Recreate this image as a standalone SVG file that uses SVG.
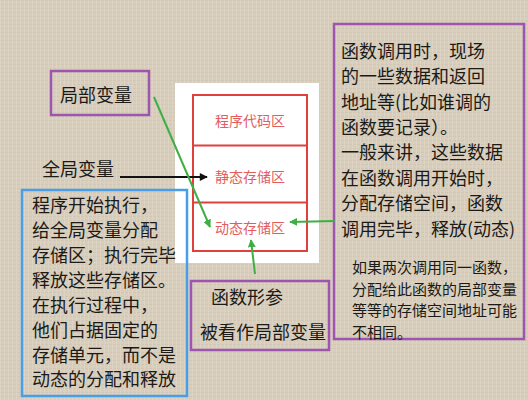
<svg xmlns="http://www.w3.org/2000/svg" width="528" height="400" viewBox="0 0 528 400">
<style>
text{font-family:"Noto Sans CJK SC","Noto Sans",sans-serif;fill:#1c1a17}
.t18{font-size:18px}
.t15{font-size:15px}
.mem{font-size:14px;fill:#e35d5d;text-anchor:middle}
.pbox{fill:none;stroke:#9e55b0;stroke-width:2.5}
.bbox{fill:none;stroke:#4a9ee6;stroke-width:2.5}
.cell{fill:none;stroke:#e0403c;stroke-width:2}
.g{stroke:#3fae45;stroke-width:2;fill:none}
.k{stroke:#111;stroke-width:2;fill:none}
</style>
<defs>
<pattern id="tex" width="4" height="4" patternUnits="userSpaceOnUse">
<rect width="4" height="4" fill="#d8cebd"/>
<rect width="4" height="1" fill="#d2c7b5"/>
<rect width="1" height="4" fill="#dcd3c3"/>
</pattern>
<marker id="ag" viewBox="0 0 10 10" refX="9" refY="5" markerWidth="4" markerHeight="4" orient="auto" markerUnits="strokeWidth">
<path d="M0,0 L10,5 L0,10 z" fill="#3fae45"/>
</marker>
<marker id="ak" viewBox="0 0 10 10" refX="9" refY="5" markerWidth="4.5" markerHeight="4" orient="auto" markerUnits="strokeWidth">
<path d="M0,0 L10,5 L0,10 z" fill="#111"/>
</marker>
</defs>
<rect width="528" height="400" fill="url(#tex)"/>

<g id="memory">
<rect x="175" y="83" width="144" height="180" fill="#ffffff"/>
<rect class="cell" x="193" y="95" width="114" height="156"/>
<line class="cell" x1="193" y1="145.5" x2="307" y2="145.5"/>
<line class="cell" x1="193" y1="202.5" x2="307" y2="202.5"/>
<text class="mem" x="250" y="126">程序代码区</text>
<text class="mem" x="250" y="181.5">静态存储区</text>
<text class="mem" x="250" y="232.5">动态存储区</text>
</g>

<g id="local-var">
<rect class="pbox" x="51" y="71" width="98" height="44"/>
<text class="t18" x="60" y="102">局部变量</text>
</g>

<g id="global-var">
<text class="t18" x="42" y="176">全局变量</text>
</g>

<g id="global-note">
<rect class="bbox" x="22" y="190" width="165" height="206"/>
<text class="t18" x="32" y="212">程序开始执行，</text>
<text class="t18" x="32" y="237">给全局变量分配</text>
<text class="t18" x="32" y="262">存储区；执行完毕</text>
<text class="t18" x="32" y="287">释放这些存储区。</text>
<text class="t18" x="32" y="311.5">在执行过程中，</text>
<text class="t18" x="32" y="336.5">他们占据固定的</text>
<text class="t18" x="32" y="361.5">存储单元，而不是</text>
<text class="t18" x="32" y="386">动态的分配和释放</text>
</g>

<g id="param">
<rect class="pbox" x="191" y="281" width="138" height="69"/>
<text class="t18" x="211" y="304">函数形参</text>
<text class="t18" x="200" y="339">被看作局部变量</text>
</g>

<g id="call-note">
<rect class="pbox" x="334" y="24" width="190" height="315"/>
<text class="t18" x="341" y="57.7">函数调用时，现场</text>
<text class="t18" x="341" y="83.1">的一些数据和返回</text>
<text class="t18" x="341" y="108.5">地址等(比如谁调的</text>
<text class="t18" x="341" y="133.9">函数要记录）。</text>
<text class="t18" x="341" y="159.3">一般来讲，这些数据</text>
<text class="t18" x="341" y="184.7">在函数调用开始时，</text>
<text class="t18" x="341" y="210.1">分配存储空间，函数</text>
<text class="t18" x="341" y="235.5">调用完毕，释放(动态)</text>
<text class="t15" x="352" y="273">如果两次调用同一函数，</text>
<text class="t15" x="352" y="294.5">分配给此函数的局部变量</text>
<text class="t15" x="352" y="316">等等的存储空间地址可能</text>
<text class="t15" x="352" y="337.5">不相同。</text>
</g>

<g id="connectors">
<line class="k" x1="120" y1="177" x2="207" y2="177" marker-end="url(#ak)"/>
<line class="g" x1="154" y1="97" x2="210" y2="227" marker-end="url(#ag)"/>
<line class="g" x1="335" y1="221" x2="290" y2="222" marker-end="url(#ag)"/>
<line class="g" x1="255" y1="274" x2="251" y2="240" marker-end="url(#ag)"/>
</g>
</svg>
